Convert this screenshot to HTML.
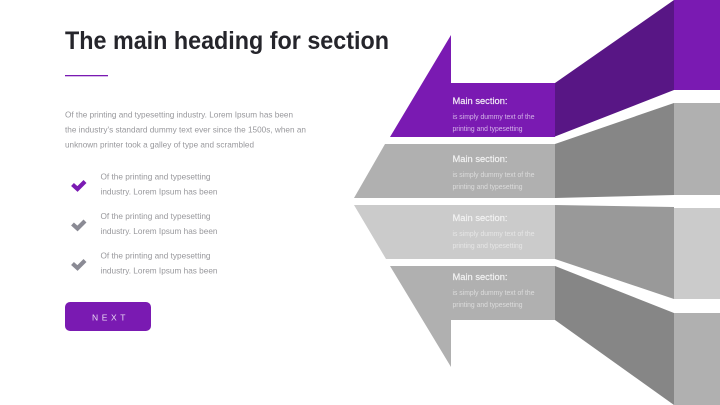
<!DOCTYPE html>
<html><head><meta charset="utf-8"><style>
html,body{margin:0;padding:0;background:#fff}
svg{display:block}
text{font-family:"Liberation Sans",sans-serif}
</style></head><body>
<svg width="720" height="405" viewBox="0 0 720 405" xmlns="http://www.w3.org/2000/svg">
<rect width="720" height="405" fill="#fff"/>
<text x="65" y="49" font-size="25" font-weight="700" fill="#25252b" textLength="324" lengthAdjust="spacingAndGlyphs">The main heading for section</text>
<rect x="65" y="75" width="43" height="1.3" fill="#7a1ab2"/>
<g font-size="8.5" fill="#98989c">
<text x="65" y="117.500" textLength="228" lengthAdjust="spacingAndGlyphs">Of the printing and typesetting industry. Lorem Ipsum has been</text>
<text x="65" y="132.500" textLength="241" lengthAdjust="spacingAndGlyphs">the industry's standard dummy text ever since the 1500s, when an</text>
<text x="65" y="147.500" textLength="189" lengthAdjust="spacingAndGlyphs">unknown printer took a galley of type and scrambled</text>
<text x="100.500" y="179.500" textLength="110" lengthAdjust="spacingAndGlyphs">Of the printing and typesetting</text>
<text x="100.500" y="194.500" textLength="117" lengthAdjust="spacingAndGlyphs">industry. Lorem Ipsum has been</text>
<text x="100.500" y="219" textLength="110" lengthAdjust="spacingAndGlyphs">Of the printing and typesetting</text>
<text x="100.500" y="234" textLength="117" lengthAdjust="spacingAndGlyphs">industry. Lorem Ipsum has been</text>
<text x="100.500" y="258.500" textLength="110" lengthAdjust="spacingAndGlyphs">Of the printing and typesetting</text>
<text x="100.500" y="273.500" textLength="117" lengthAdjust="spacingAndGlyphs">industry. Lorem Ipsum has been</text>
</g>
<path d="M72.500 184.500 L77.500 189 L85 181.500" fill="none" stroke="#7a1ab2" stroke-width="4.200"/>
<path d="M72.500 224 L77.500 228.500 L85 221" fill="none" stroke="#8a8a94" stroke-width="4.200"/>
<path d="M72.500 263.500 L77.500 268 L85 260.500" fill="none" stroke="#8a8a94" stroke-width="4.200"/>
<rect x="65" y="302" width="86" height="29" rx="5" fill="#7a1ab2"/>
<text x="92" y="320.500" font-size="8.500" fill="#e8d8f2" letter-spacing="3.600">NEXT</text>

<polygon points="451,35 451,83 555,83 555,137 390,137" fill="#7a1ab2"/>
<polygon points="555,83 674,0 674,90 555,136.500" fill="#581685"/>
<rect x="674" y="0" width="46" height="90" fill="#7a1ab2"/>

<polygon points="385,144 555,144 555,198 354,198" fill="#b0b0b0"/>
<polygon points="555,144 674,103 674,195 555,198" fill="#868686"/>
<rect x="674" y="103" width="46" height="92" fill="#b0b0b0"/>

<polygon points="354,205 555,205 555,259 386,259" fill="#cbcbcb"/>
<polygon points="555,205 674,207 674,299 555,259" fill="#999999"/>
<rect x="674" y="208" width="46" height="91" fill="#cbcbcb"/>

<polygon points="390,266 555,266 555,320 451,320 451,367" fill="#b0b0b0"/>
<polygon points="555,266 674,313 674,405 555,320" fill="#868686"/>
<rect x="674" y="313" width="46" height="92" fill="#b0b0b0"/>

<g font-size="9.500" fill="#f2f2f2" stroke="#f2f2f2" stroke-width="0.200">
<text x="452.500" y="104" textLength="55" lengthAdjust="spacingAndGlyphs" fill="#f3e8fa">Main section:</text>
<text x="452.500" y="162" textLength="55" lengthAdjust="spacingAndGlyphs">Main section:</text>
<text x="452.500" y="221" textLength="55" lengthAdjust="spacingAndGlyphs">Main section:</text>
<text x="452.500" y="280" textLength="55" lengthAdjust="spacingAndGlyphs">Main section:</text>
</g>
<g font-size="7.500" fill="#dcdcdc">
<g fill="#d4b4e8">
<text x="452.500" y="119" textLength="82" lengthAdjust="spacingAndGlyphs">is simply dummy text of the</text>
<text x="452.500" y="131" textLength="70" lengthAdjust="spacingAndGlyphs">printing and typesetting</text>
</g>
<text x="452.500" y="177" textLength="82" lengthAdjust="spacingAndGlyphs">is simply dummy text of the</text>
<text x="452.500" y="189" textLength="70" lengthAdjust="spacingAndGlyphs">printing and typesetting</text>
<g fill="#e6e6e6">
<text x="452.500" y="236" textLength="82" lengthAdjust="spacingAndGlyphs">is simply dummy text of the</text>
<text x="452.500" y="248" textLength="70" lengthAdjust="spacingAndGlyphs">printing and typesetting</text>
</g>
<text x="452.500" y="295" textLength="82" lengthAdjust="spacingAndGlyphs">is simply dummy text of the</text>
<text x="452.500" y="307" textLength="70" lengthAdjust="spacingAndGlyphs">printing and typesetting</text>
</g>
</svg>
</body></html>
